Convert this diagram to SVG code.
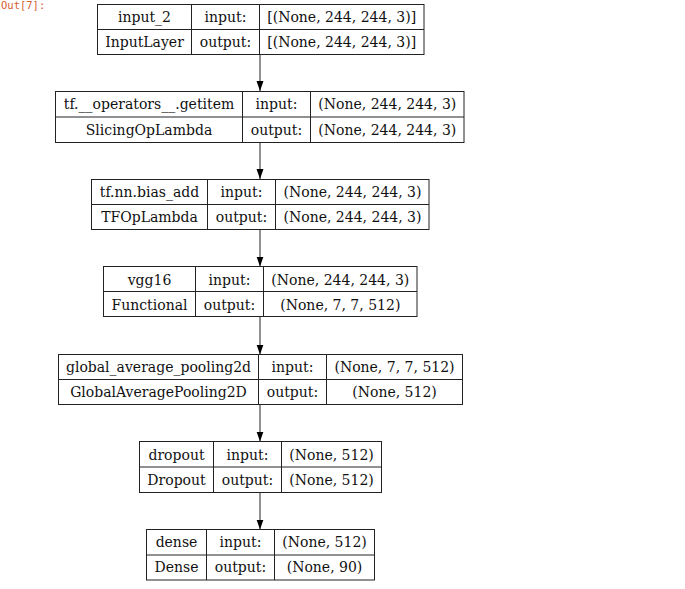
<svg xmlns="http://www.w3.org/2000/svg" width="685" height="589" viewBox="0 0 685 589">
<defs>
<style>
.box{fill:#fff;stroke:#222;stroke-width:1}
.ln{stroke:#222;stroke-width:1;fill:none}
.t{font-family:'DejaVu Serif','Liberation Serif',serif;font-size:14px;fill:#111;text-anchor:middle}
.out{font-family:'DejaVu Sans Mono','Liberation Mono',monospace;font-size:10.5px;fill:#d5602f}
</style>
<marker id="ah" viewBox="0 0 10 10" refX="10" refY="5" markerWidth="10" markerHeight="10" markerUnits="userSpaceOnUse" orient="auto">
<path d="M0,1.5 L10,5 L0,8.5 z" fill="#000"/>
</marker>
</defs>
<rect width="685" height="589" fill="#fff"/>
<text class="out" x="1" y="8.5">Out[7]:</text>
<g id="connectors">
<line class="ln" x1="260" y1="54" x2="260" y2="91" marker-end="url(#ah)"/>
<line class="ln" x1="260" y1="143" x2="260" y2="179" marker-end="url(#ah)"/>
<line class="ln" x1="260" y1="229" x2="260" y2="266.5" marker-end="url(#ah)"/>
<line class="ln" x1="260" y1="317" x2="260" y2="354.5" marker-end="url(#ah)"/>
<line class="ln" x1="260" y1="404.5" x2="260" y2="441.5" marker-end="url(#ah)"/>
<line class="ln" x1="260" y1="493" x2="260" y2="529.5" marker-end="url(#ah)"/>
</g>
<g id="n1" class="t">
<rect class="box" x="97.5" y="4.5" width="326.5" height="50"/>
<line class="ln" x1="97.5" y1="29.5" x2="424" y2="29.5"/>
<line class="ln" x1="191.5" y1="4.5" x2="191.5" y2="54.5"/>
<line class="ln" x1="259.5" y1="4.5" x2="259.5" y2="54.5"/>
<text x="144.5" y="22">input_2</text><text x="225.5" y="22">input:</text><text x="341.7" y="22">[(None, 244, 244, 3)]</text>
<text x="144.5" y="47">InputLayer</text><text x="225.5" y="47">output:</text><text x="341.7" y="47">[(None, 244, 244, 3)]</text>
</g>
<g id="n2" class="t">
<rect class="box" x="55.5" y="91.5" width="408.5" height="51"/>
<line class="ln" x1="55.5" y1="117" x2="464" y2="117"/>
<line class="ln" x1="242.5" y1="91.5" x2="242.5" y2="142.5"/>
<line class="ln" x1="310.5" y1="91.5" x2="310.5" y2="142.5"/>
<text x="149" y="109">tf.__operators__.getitem</text><text x="276.5" y="109">input:</text><text x="387.3" y="109">(None, 244, 244, 3)</text>
<text x="149" y="134.5">SlicingOpLambda</text><text x="276.5" y="134.5">output:</text><text x="387.3" y="134.5">(None, 244, 244, 3)</text>
</g>
<g id="n3" class="t">
<rect class="box" x="91.5" y="179.5" width="337.5" height="50"/>
<line class="ln" x1="91.5" y1="204.5" x2="429" y2="204.5"/>
<line class="ln" x1="207.5" y1="179.5" x2="207.5" y2="229.5"/>
<line class="ln" x1="275.5" y1="179.5" x2="275.5" y2="229.5"/>
<text x="149.5" y="197">tf.nn.bias_add</text><text x="241.5" y="197">input:</text><text x="352.5" y="197">(None, 244, 244, 3)</text>
<text x="149.5" y="222">TFOpLambda</text><text x="241.5" y="222">output:</text><text x="352.5" y="222">(None, 244, 244, 3)</text>
</g>
<g id="n4" class="t">
<rect class="box" x="103.5" y="266.5" width="313.5" height="50"/>
<line class="ln" x1="103.5" y1="291.5" x2="417" y2="291.5"/>
<line class="ln" x1="195.5" y1="266.5" x2="195.5" y2="316.5"/>
<line class="ln" x1="263.5" y1="266.5" x2="263.5" y2="316.5"/>
<text x="149.5" y="284.5">vgg16</text><text x="229.5" y="284.5">input:</text><text x="340.3" y="284.5">(None, 244, 244, 3)</text>
<text x="149.5" y="309.5">Functional</text><text x="229.5" y="309.5">output:</text><text x="340.3" y="309.5">(None, 7, 7, 512)</text>
</g>
<g id="n5" class="t">
<rect class="box" x="58.5" y="354.5" width="404" height="50"/>
<line class="ln" x1="58.5" y1="379.5" x2="462.5" y2="379.5"/>
<line class="ln" x1="258.5" y1="354.5" x2="258.5" y2="404.5"/>
<line class="ln" x1="326.5" y1="354.5" x2="326.5" y2="404.5"/>
<text x="158.5" y="372">global_average_pooling2d</text><text x="292.5" y="372">input:</text><text x="394.5" y="372">(None, 7, 7, 512)</text>
<text x="158.5" y="397">GlobalAveragePooling2D</text><text x="292.5" y="397">output:</text><text x="394.5" y="397">(None, 512)</text>
</g>
<g id="n6" class="t">
<rect class="box" x="139.5" y="441.5" width="242" height="51"/>
<line class="ln" x1="139.5" y1="467" x2="381.5" y2="467"/>
<line class="ln" x1="213.5" y1="441.5" x2="213.5" y2="492.5"/>
<line class="ln" x1="281.5" y1="441.5" x2="281.5" y2="492.5"/>
<text x="176.5" y="459.5">dropout</text><text x="247.5" y="459.5">input:</text><text x="331.5" y="459.5">(None, 512)</text>
<text x="176.5" y="484.5">Dropout</text><text x="247.5" y="484.5">output:</text><text x="331.5" y="484.5">(None, 512)</text>
</g>
<g id="n7" class="t">
<rect class="box" x="146.5" y="529.5" width="228" height="50.5"/>
<line class="ln" x1="146.5" y1="555" x2="374.5" y2="555"/>
<line class="ln" x1="206.5" y1="529.5" x2="206.5" y2="580"/>
<line class="ln" x1="274.5" y1="529.5" x2="274.5" y2="580"/>
<text x="176.5" y="547">dense</text><text x="240.5" y="547">input:</text><text x="324.5" y="547">(None, 512)</text>
<text x="176.5" y="572">Dense</text><text x="240.5" y="572">output:</text><text x="324.5" y="572">(None, 90)</text>
</g>
</svg>
